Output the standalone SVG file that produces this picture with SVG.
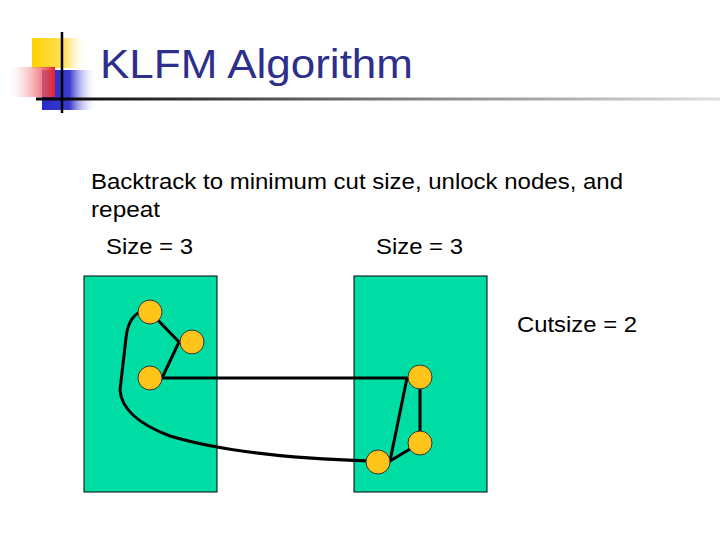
<svg xmlns="http://www.w3.org/2000/svg" width="720" height="540" viewBox="0 0 720 540">
<defs>
<linearGradient id="gy" x1="0" x2="1" y1="0" y2="0"><stop offset="0" stop-color="#FFD200"/><stop offset="0.6" stop-color="#FFE060"/><stop offset="1" stop-color="#FFFFFF" stop-opacity="0"/></linearGradient>
<linearGradient id="gr" x1="0" x2="1" y1="0" y2="0"><stop offset="0" stop-color="#FFFFFF" stop-opacity="0.3"/><stop offset="1" stop-color="#E8202A"/></linearGradient>
<linearGradient id="gb" x1="0" x2="1" y1="0" y2="0"><stop offset="0" stop-color="#2A2ACC"/><stop offset="0.5" stop-color="#3A3ACC"/><stop offset="1" stop-color="#FFFFFF" stop-opacity="0"/></linearGradient>
<linearGradient id="gl" x1="0" x2="1" y1="0" y2="0"><stop offset="0" stop-color="#000000"/><stop offset="0.5" stop-color="#777777"/><stop offset="1" stop-color="#E0E0E0"/></linearGradient>
</defs>
<style>
.t{font-family:"Liberation Sans",Arial,sans-serif;fill:#000;font-size:22px}
.part{fill:#00DDA4;stroke:#000;stroke-width:1}
.node{fill:#FFC41A;stroke:#333;stroke-width:1}
.edge{fill:none;stroke:#000;stroke-width:3;stroke-linejoin:round}
</style>
<g id="logo">
<rect x="32" y="38" width="55" height="30" fill="url(#gy)"/>
<rect x="42" y="70" width="55" height="40" fill="url(#gb)"/>
<rect x="10" y="67" width="45" height="30" fill="url(#gr)"/>
<rect x="36" y="97.5" width="684" height="3" fill="url(#gl)"/>
<line x1="62" y1="32" x2="62" y2="113" stroke="#000" stroke-width="2.5"/>
</g>
<text class="t" x="100" y="78" style="font-size:40px;fill:#2E2E8C" textLength="313" lengthAdjust="spacingAndGlyphs">KLFM Algorithm</text>
<text class="t" x="91" y="189" textLength="532" lengthAdjust="spacingAndGlyphs">Backtrack to minimum cut size, unlock nodes, and</text>
<text class="t" x="91" y="217" textLength="69" lengthAdjust="spacingAndGlyphs">repeat</text>
<text class="t" x="106" y="254" textLength="87" lengthAdjust="spacingAndGlyphs">Size = 3</text>
<text class="t" x="376" y="254" textLength="87" lengthAdjust="spacingAndGlyphs">Size = 3</text>
<text class="t" x="517" y="332" textLength="120" lengthAdjust="spacingAndGlyphs">Cutsize = 2</text>
<g id="partA"><rect class="part" x="84" y="276" width="133" height="216"/></g>
<g id="partB"><rect class="part" x="354" y="276" width="133" height="216"/></g>
<g id="connectors">
<path class="edge" d="M150,312 L179,342 L162,378"/>
<path class="edge" d="M162,378 L407,378 L390,461 L420,443 L420,377"/>
<path class="edge" d="M140,312 Q128,318 126,338 L120,390 Q122,418 170,436 Q240,457 370,461"/>
</g>
<g id="n1"><circle class="node" cx="150" cy="312" r="12"/></g>
<g id="n2"><circle class="node" cx="192" cy="342" r="12"/></g>
<g id="n3"><circle class="node" cx="150" cy="378" r="12"/></g>
<g id="n4"><circle class="node" cx="420" cy="377" r="12"/></g>
<g id="n5"><circle class="node" cx="420" cy="443" r="12"/></g>
<g id="n6"><circle class="node" cx="378" cy="462" r="12"/></g>
</svg>
